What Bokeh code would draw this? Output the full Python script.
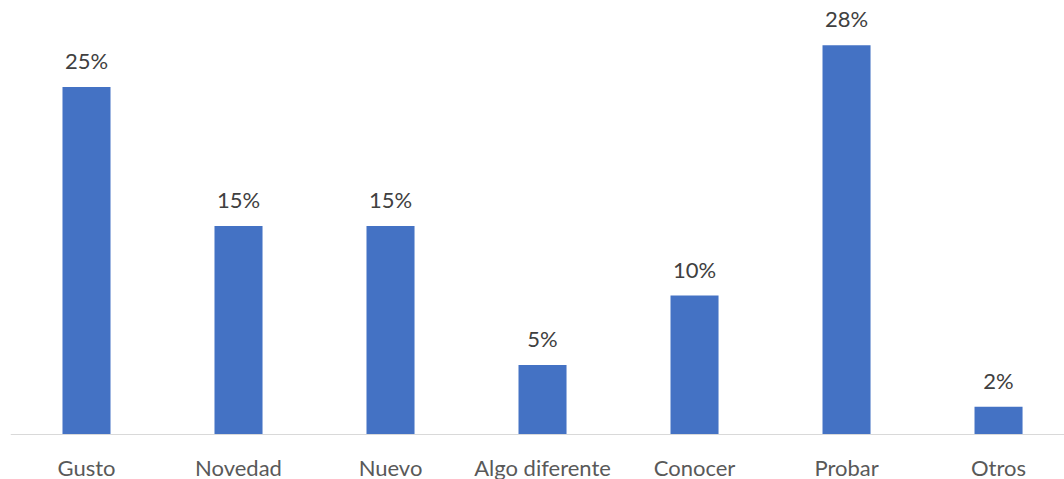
from bokeh.plotting import figure
from bokeh.models import ColumnDataSource, Range1d, LabelSet, Span
from bokeh.core.properties import value
from bokeh.embed import file_html
from bokeh.resources import INLINE

# Reasons given, share of responses (%)
categories = ["Gusto", "Novedad", "Nuevo", "Algo diferente", "Conocer", "Probar", "Otros"]
shares = [25, 15, 15, 5, 10, 28, 2]
share_labels = [f"{v}%" for v in shares]

BAR_COLOR = "#4472C4"
FONT = "Lato"
PX_PER_UNIT = 13.9  # vertical pixels per percentage point

# one unit per category, bars centred in their slot
xpos = [i + 0.5 for i in range(len(categories))]
source = ColumnDataSource(data=dict(x=xpos, cat=categories, zero=[0] * len(shares),
                                    val=shares, lbl=share_labels))

p = figure(
    width=1064, height=479,
    x_range=Range1d(0, 6.934),
    y_range=Range1d(-45 / PX_PER_UNIT, 434 / PX_PER_UNIT),
    output_backend="svg", toolbar_location=None,
    min_border_left=10, min_border_right=0, min_border_top=0, min_border_bottom=0,
)
p.xaxis.visible = False
p.yaxis.visible = False
p.xgrid.grid_line_color = None
p.ygrid.grid_line_color = None
p.outline_line_color = None
p.background_fill_color = "white"
p.border_fill_color = "white"

p.vbar(x="x", top="val", width=0.316, source=source,
       fill_color=BAR_COLOR, line_color=None)

# category axis baseline
p.add_layout(Span(location=0, dimension="width", line_color="#d9d9d9", line_width=1))

value_labels = LabelSet(x="x", y="val", text="lbl", source=source,
                        text_align="center", text_baseline="alphabetic",
                        y_offset=18, text_font=value(FONT), text_font_size="22px",
                        text_color="#404040")
p.add_layout(value_labels)

cat_labels = LabelSet(x="x", y="zero", text="cat", source=source,
                      text_align="center", text_baseline="alphabetic",
                      y_offset=-41, text_font=value(FONT), text_font_size="22px",
                      text_color="#595959")
p.add_layout(cat_labels)

open("out.html", "w").write(file_html(p, INLINE))
